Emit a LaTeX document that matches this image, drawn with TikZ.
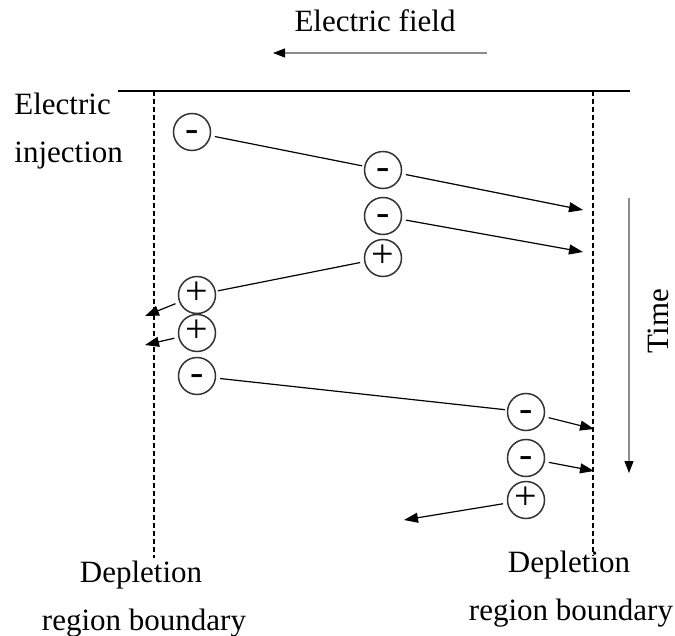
\documentclass[tikz,border=0pt]{standalone}
\usepackage{fontspec}
\setmainfont{Liberation Serif}
\usetikzlibrary{arrows.meta}

\begin{document}
\begin{tikzpicture}[x=0.5pt,y=-0.5pt,
  lbl/.style={font=\fontsize{15.5}{18}\selectfont, inner sep=0pt},
  charge/.style={circle, draw=black!80, line width=0.75pt, minimum size=18.5pt,
    inner sep=0pt, text height=9.2pt, text depth=0pt,
    font=\fontsize{20}{20}\selectfont},
  track/.style={line width=0.6pt, black, shorten <=2pt, shorten >=1pt},
  drift/.style={track, -{Triangle[length=7pt,width=5pt]}, shorten >=0pt},
  axis/.style={line width=0.6pt, black!45, -{Triangle[length=6pt,width=4.5pt,black]}},
  boundary/.style={line width=0.7pt, dash pattern=on 2.5pt off 1.5pt}]
\useasboundingbox (0,0) rectangle (675,636);

% field direction
\coordinate (ef0) at (487,53);
\coordinate (ef1) at (273,53);
\draw[axis] (ef0) -- (ef1);
\node[lbl, anchor=base] (eflabel) at (375,32) {Electric field};

% surface and depletion boundaries
\coordinate (s0) at (118,91);
\coordinate (s1) at (630,91);
\draw[line width=0.85pt] (s0) -- (s1);
\coordinate (bl0) at (154,91);
\coordinate (bl1) at (154,558);
\coordinate (br0) at (593,91);
\coordinate (br1) at (593,556);
\draw[boundary] (bl0) -- (bl1);
\draw[boundary] (br0) -- (br1);

\node[lbl, anchor=base west] (inj1) at (14,115) {Electric};
\node[lbl, anchor=base west] (inj2) at (14,163) {injection};

% time axis
\coordinate (t0) at (629,198);
\coordinate (t1) at (629,473);
\draw[axis] (t0) -- (t1);
\node[lbl, anchor=base, rotate=90] (time) at (668,321) {Time};

% carriers
\node[charge] (c1)  at (192,132) {-};
\node[charge] (c2)  at (383,170) {-};
\node[charge] (c3)  at (383,216) {-};
\node[charge] (c4)  at (383,258) {+};
\node[charge] (c5)  at (197,295) {+};
\node[charge] (c6)  at (197,333) {+};
\node[charge] (c7)  at (197,376) {-};
\node[charge] (c8)  at (526,412) {-};
\node[charge] (c9)  at (526,458) {-};
\node[charge] (c10) at (526,500) {+};

% drift end points
\coordinate (e2)  at (583,210);
\coordinate (e3)  at (583,252);
\coordinate (e5)  at (145,316);
\coordinate (e6)  at (145,345);
\coordinate (e8)  at (594,429);
\coordinate (e9)  at (594,471);
\coordinate (e10) at (404,520);

% carrier paths
\draw[track] (c1) -- (c2);
\draw[track] (c4) -- (c5);
\draw[track] (c7) -- (c8);
\draw[drift] (c2) -- (e2);
\draw[drift] (c3) -- (e3);
\draw[drift] (c5) -- (e5);
\draw[drift] (c6) -- (e6);
\draw[drift] (c8) -- (e8);
\draw[drift] (c9) -- (e9);
\draw[drift] (c10) -- (e10);

% boundary labels
\node[lbl, anchor=base] (dl1) at (141,582) {Depletion};
\node[lbl, anchor=base] (dl2) at (144,630) {region boundary};
\node[lbl, anchor=base] (dr1) at (569,572) {Depletion};
\node[lbl, anchor=base] (dr2) at (571,620) {region boundary};
\end{tikzpicture}
\end{document}
